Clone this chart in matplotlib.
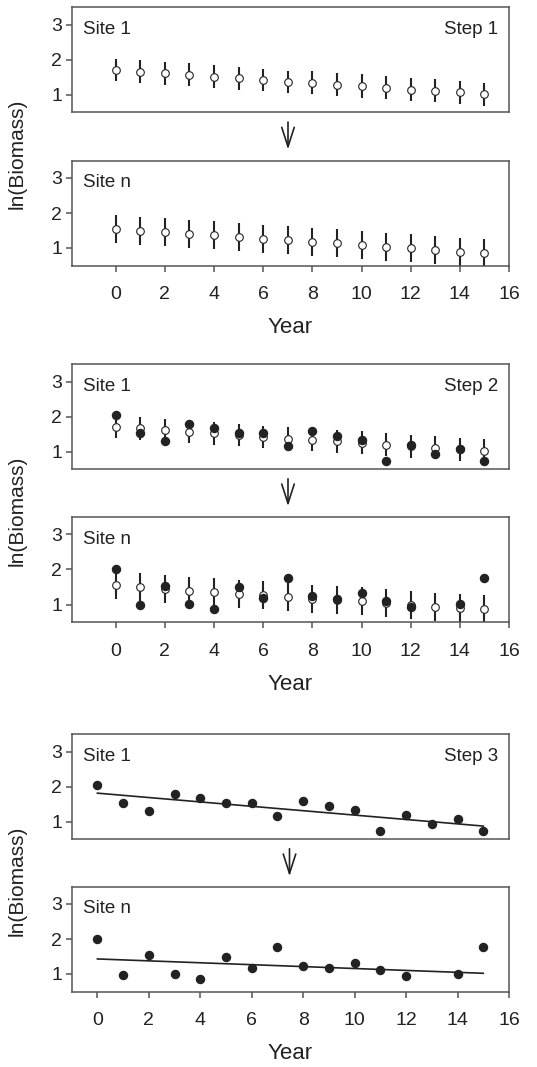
import numpy as np
import matplotlib
matplotlib.use("Agg")
import matplotlib.pyplot as plt
from matplotlib.patches import FancyArrowPatch

# ______________________________________________________________________________
# Data

years = np.arange(16)

# predicted ln(biomass) from the model (open circles) and error bar half widths
pred_site1 = np.array([1.71, 1.66, 1.61, 1.57, 1.52, 1.47, 1.42, 1.37,
                       1.34, 1.29, 1.25, 1.20, 1.15, 1.11, 1.07, 1.02])
err_site1 = np.array([0.32, 0.32, 0.32, 0.33, 0.32, 0.32, 0.32, 0.32,
                      0.33, 0.33, 0.33, 0.33, 0.33, 0.33, 0.33, 0.33])
pred_siten = np.array([1.55, 1.50, 1.45, 1.40, 1.36, 1.31, 1.27, 1.22,
                       1.17, 1.13, 1.09, 1.04, 0.99, 0.94, 0.89, 0.86])
err_siten = np.array([0.40, 0.40, 0.40, 0.40, 0.40, 0.40, 0.40, 0.40,
                      0.40, 0.40, 0.40, 0.40, 0.40, 0.40, 0.40, 0.40])

# observed ln(biomass) (filled circles), site n has no year 13
obs_site1 = np.array([2.03, 1.54, 1.29, 1.79, 1.66, 1.54, 1.53, 1.16,
                      1.59, 1.44, 1.32, 0.73, 1.19, 0.93, 1.07, 0.73])
years_siten = np.array([0, 1, 2, 3, 4, 5, 6, 7, 8, 9, 10, 11, 12, 14, 15])
obs_siten = np.array([2.00, 0.98, 1.54, 1.01, 0.87, 1.50, 1.18, 1.77,
                      1.24, 1.17, 1.32, 1.11, 0.93, 1.01, 1.77])

# trend lines of step 3 (intercept, slope)
trend_site1 = (1.81, -0.0627)
trend_siten = (1.43, -0.0273)

# ______________________________________________________________________________
# RCParams

plt.rcParams['font.family'] = ['Liberation Sans', 'DejaVu Sans']
plt.rcParams['font.size'] = 14
plt.rcParams['xtick.labelsize'] = 14
plt.rcParams['ytick.labelsize'] = 14
plt.rcParams['axes.labelsize'] = 16
plt.rcParams['axes.linewidth'] = 1.1
plt.rcParams['axes.edgecolor'] = '#555555'
plt.rcParams['xtick.color'] = '#555555'
plt.rcParams['ytick.color'] = '#555555'
plt.rcParams['xtick.labelcolor'] = '#222222'
plt.rcParams['ytick.labelcolor'] = '#222222'
plt.rcParams['xtick.major.size'] = 4
plt.rcParams['ytick.major.size'] = 4
plt.rcParams['xtick.major.width'] = 1.1
plt.rcParams['ytick.major.width'] = 1.1

W, H = 537, 1067
fig = plt.figure(figsize=(W / 100, H / 100), dpi=100)

LEFT, RIGHT = 71.7, 509.0
PH = 105.0
tops = [7.3, 160.5, 364.0, 517.0, 734.0, 886.5]


def panel(top):
    return fig.add_axes([LEFT / W, 1 - (top + PH) / H, (RIGHT - LEFT) / W, PH / H])


def decorate(ax, site, step, xmin, bottom_row):
    ax.set_ylim(0.5, 3.5)
    ax.set_yticks([1, 2, 3])
    ax.set_xlim(xmin, 16)
    ax.set_xticks(np.arange(0, 17, 2))
    ax.tick_params(axis='y', pad=3)
    if bottom_row:
        ax.tick_params(axis='x', pad=11)
        ax.set_xlabel("Year", labelpad=10, color='#222222')
    else:
        ax.tick_params(axis='x', bottom=False, labelbottom=False)
    ax.text(0.026, 0.79, site, transform=ax.transAxes, ha='left', va='center',
            fontsize=13.5, color='#222222')
    if step:
        ax.text(0.975, 0.79, step, transform=ax.transAxes, ha='right', va='center',
                fontsize=13.5, color='#222222')


def predicted(ax, pred, err):
    ax.errorbar(years, pred, yerr=err, fmt='none', ecolor='#222222', elinewidth=1.5,
                capsize=0, zorder=2)
    ax.plot(years, pred, 'o', ms=5.5, mfc='white', mec='#222222', mew=0.8, zorder=3)


def observed(ax, x, y):
    ax.plot(x, y, 'o', ms=5.8, mfc='#222222', mec='#222222', zorder=4)


axs = [panel(t) for t in tops]

# Step 1
predicted(axs[0], pred_site1, err_site1)
predicted(axs[1], pred_siten, err_siten)
decorate(axs[0], "Site 1", "Step 1", -1.79, False)
decorate(axs[1], "Site n", None, -1.79, True)

# Step 2
predicted(axs[2], pred_site1, err_site1)
observed(axs[2], years, obs_site1)
predicted(axs[3], pred_siten, err_siten)
observed(axs[3], years_siten, obs_siten)
decorate(axs[2], "Site 1", "Step 2", -1.79, False)
decorate(axs[3], "Site n", None, -1.79, True)

# Step 3
observed(axs[4], years, obs_site1)
xl = np.array([0, 15])
axs[4].plot(xl, trend_site1[0] + trend_site1[1] * xl, color='#222222', lw=1.2, zorder=3)
observed(axs[5], years_siten, obs_siten)
axs[5].plot(xl, trend_siten[0] + trend_siten[1] * xl, color='#222222', lw=1.2, zorder=3)
decorate(axs[4], "Site 1", "Step 3", -1.0, False)
decorate(axs[5], "Site n", None, -1.0, True)

# arrows between site 1 and site n
for k, xa in zip([0, 2, 4], [288.0, 288.0, 289.5]):
    y0 = tops[k] + PH + 7
    y1 = tops[k] + PH + 40
    arr = FancyArrowPatch((xa / W, 1 - y0 / H), (xa / W, 1 - y1 / H),
                          transform=fig.transFigure,
                          arrowstyle='->,head_length=1.4,head_width=0.45',
                          mutation_scale=10, lw=1.2, color='#222222')
    fig.add_artist(arr)

# y labels
for k in [0, 2, 4]:
    yc = tops[k] + 147
    fig.text(17 / W, 1 - yc / H, "ln(Biomass)", rotation=90, ha='center', va='center',
             fontsize=15, color='#222222')

fig.savefig("out.png", dpi=100, facecolor='white')
